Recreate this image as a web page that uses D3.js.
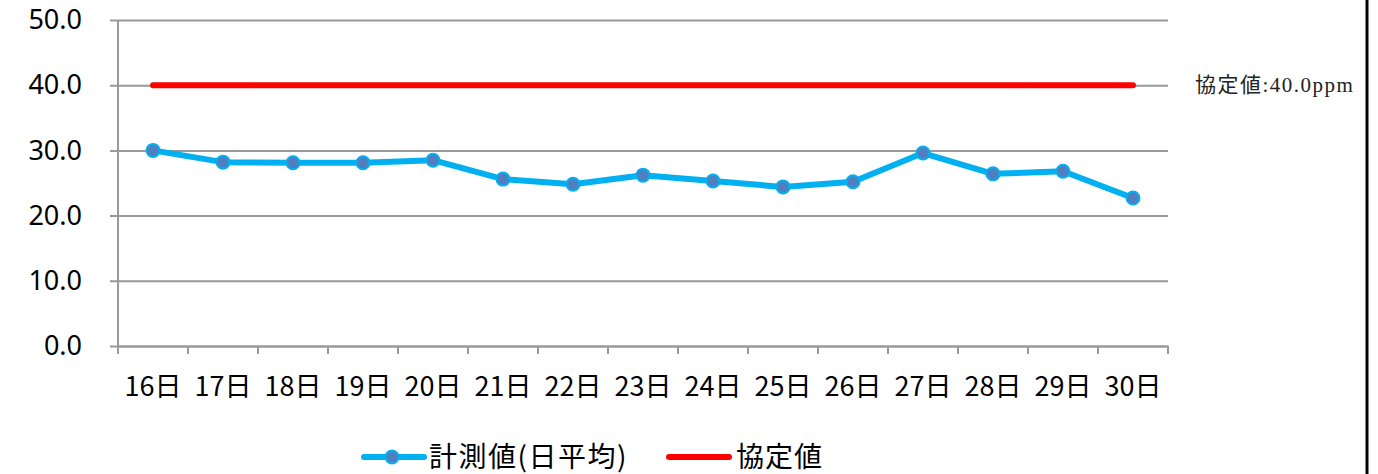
<!DOCTYPE html>
<html>
<head>
<meta charset="utf-8">
<script src="https://cdn.jsdelivr.net/npm/d3@7"></script>
<style>
  body { margin: 0; background: #fff; }
  svg { display: block; }
  .axis text { font-family: "Noto Sans CJK JP", "Noto Sans", sans-serif; fill: #000; }
</style>
</head>
<body>
<div id="chart"></div>
<script>
// data
var days = ["16日", "17日", "18日", "19日", "20日", "21日", "22日", "23日", "24日", "25日", "26日", "27日", "28日", "29日", "30日"];
var measured = [30.0, 28.2, 28.1, 28.1, 28.5, 25.6, 24.8, 26.2, 25.3, 24.4, 25.2, 29.6, 26.4, 26.8, 22.7];
var agreed = [40, 40, 40, 40, 40, 40, 40, 40, 40, 40, 40, 40, 40, 40, 40];
var yTicks = [0, 10, 20, 30, 40, 50];
var seriesNames = ["計測値(日平均)", "協定値"];
var agreedLabel = "協定値:40.0ppm";

var W = 1378, H = 474;
var margin = {left: 118, right: 210, top: 20, bottom: 128};
var width = W - margin.left - margin.right,   // 1050
    height = H - margin.top - margin.bottom;  // 326

var svg = d3.select("#chart").append("svg")
      .attr("width", W)
      .attr("height", H);

var g = svg.append("g")
      .attr("transform", "translate(" + margin.left + "," + margin.top + ")");

var x = d3.scaleBand()
      .domain(days)
      .range([0, width]);

var y = d3.scaleLinear()
      .domain([0, 50])
      .range([height, 0]);

// gridlines + y axis
var yAxis = g.append("g")
      .attr("class", "axis")
      .call(d3.axisLeft(y)
            .tickValues(yTicks)
            .tickSize(-width)
            .tickPadding(36)
            .tickFormat(d3.format(".1f")));
yAxis.select(".domain").remove();
yAxis.selectAll(".tick line")
      .attr("x1", -8)
      .attr("stroke", "#999")
      .attr("stroke-width", 2);
yAxis.selectAll("text")
      .style("font-family", "'Noto Sans', sans-serif")
      .style("font-size", "27px");

// left axis line
g.append("line")
      .attr("x1", 0).attr("x2", 0)
      .attr("y1", 0).attr("y2", height)
      .attr("stroke", "#999")
      .attr("stroke-width", 2);

// x axis
var xAxis = g.append("g")
      .attr("class", "axis")
      .attr("transform", "translate(0," + height + ")")
      .call(d3.axisBottom(x).tickSize(0));
xAxis.select(".domain").attr("stroke", "#999").attr("stroke-width", 2);
xAxis.selectAll("text")
      .attr("y", 50)
      .attr("dy", 0)
      .style("font-size", "27px");

// tick marks on band boundaries
var bounds = days.map(function(d) { return x(d); }).concat([width]);
xAxis.selectAll(".bound")
      .data(bounds)
      .enter()
      .append("line")
      .attr("class", "bound")
      .attr("x1", d => d).attr("x2", d => d)
      .attr("y1", 0).attr("y2", 8)
      .attr("stroke", "#999")
      .attr("stroke-width", 2);

var cx = d => x(d) + x.bandwidth() / 2;

// agreed value line
var line = d3.line()
      .x((d, i) => cx(days[i]))
      .y(d => y(d));

g.append("path")
      .datum(agreed)
      .attr("d", line)
      .attr("fill", "none")
      .attr("stroke", "#ff0000")
      .attr("stroke-width", 6)
      .attr("stroke-linecap", "round");

g.append("text")
      .attr("x", width + 27)
      .attr("y", y(40) + 7)
      .style("font-family", "'Liberation Serif', 'Noto Sans CJK JP', serif")
      .style("font-size", "21px")
      .style("letter-spacing", "1.5px")
      .style("fill", "#222")
      .text(agreedLabel);

// measured line
g.append("path")
      .datum(measured)
      .attr("d", line)
      .attr("fill", "none")
      .attr("stroke", "#00b0f0")
      .attr("stroke-width", 6)
      .attr("stroke-linejoin", "round");

g.append("g")
      .selectAll("circle")
      .data(measured)
      .enter()
      .append("circle")
      .attr("cx", (d, i) => cx(days[i]))
      .attr("cy", d => y(d))
      .attr("r", 6.5)
      .attr("fill", "#4f7fc0")
      .attr("stroke", "#00b0f0")
      .attr("stroke-width", 2);

// legend
var legend = svg.append("g")
      .attr("transform", "translate(0,457)");

legend.append("line")
      .attr("x1", 364).attr("x2", 424)
      .attr("stroke", "#00b0f0")
      .attr("stroke-width", 6)
      .attr("stroke-linecap", "round");
legend.append("circle")
      .attr("cx", 392).attr("r", 6.5)
      .attr("fill", "#4f7fc0")
      .attr("stroke", "#00b0f0")
      .attr("stroke-width", 2);
legend.append("text")
      .attr("x", 429).attr("y", 10)
      .style("font-family", "'Noto Sans CJK JP', sans-serif")
      .style("font-size", "28px")
      .style("letter-spacing", "1.5px")
      .text(seriesNames[0]);

legend.append("line")
      .attr("x1", 669).attr("x2", 729)
      .attr("stroke", "#ff0000")
      .attr("stroke-width", 6)
      .attr("stroke-linecap", "round");
legend.append("text")
      .attr("x", 736).attr("y", 10)
      .style("font-family", "'Noto Sans CJK JP', sans-serif")
      .style("font-size", "28px")
      .style("letter-spacing", "1px")
      .text(seriesNames[1]);

// right border
svg.append("line")
      .attr("x1", 1367).attr("x2", 1367)
      .attr("y1", 0).attr("y2", H)
      .attr("stroke", "#000")
      .attr("stroke-width", 3);
</script>
</body>
</html>
